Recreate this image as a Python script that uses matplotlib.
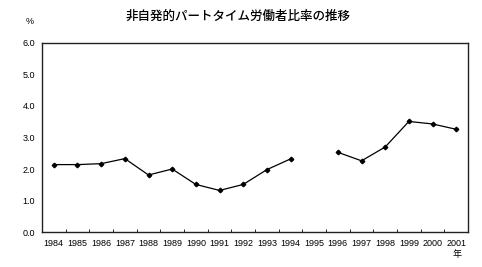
import numpy as np
import matplotlib
matplotlib.use("Agg")
import matplotlib.pyplot as plt

plt.rcParams['font.family'] = ['Liberation Sans', 'Noto Sans CJK JP', 'DejaVu Sans']

years = ["1984", "1985", "1986", "1987", "1988", "1989", "1990", "1991", "1992",
         "1993", "1994", "1995", "1996", "1997", "1998", "1999", "2000", "2001"]
# 1995 はデータなし
ratio = [2.14, 2.14, 2.17, 2.33, 1.81, 2.00, 1.51, 1.32, 1.51,
         1.98, 2.32, np.nan, 2.53, 2.26, 2.70, 3.51, 3.43, 3.26]

fig = plt.figure(figsize=(4.82, 2.67), dpi=100)
ax = fig.add_axes([0.0871, 0.131, 0.884, 0.708])

x = np.arange(len(years))
ax.plot(x, ratio, color='black', lw=0.9, marker='D', markersize=2.3)

ax.set_xlim(-0.5, len(years) - 0.5)
ax.set_ylim(0, 6)
ax.set_yticks(np.arange(0, 6.1, 1.0))
ax.set_yticklabels([f"{v:.1f}" for v in np.arange(0, 6.1, 1.0)], fontsize=6.5)
ax.tick_params(axis='y', length=0, pad=5)

ax.set_xticks(x)
ax.set_xticklabels(years, fontsize=6.5)
ax.tick_params(axis='x', which='major', length=0, pad=5)
ax.set_xticks(np.arange(0.5, len(years) - 1, 1.0), minor=True)
ax.tick_params(axis='x', which='minor', direction='in', length=2.5, width=0.6)

for s in ax.spines.values():
    s.set_linewidth(1.0)
    s.set_color('#222222')

fig.text(0.494, 0.94, "非自発的パートタイム労働者比率の推移", ha='center', va='center',
         fontsize=9, fontweight='medium', family=['Noto Sans CJK JP', 'DejaVu Sans'])
fig.text(0.062, 0.92, "%", ha='center', va='center', fontsize=6.5)
fig.text(0.948, 0.048, "年", ha='center', va='center', fontsize=6.5,
         family=['Noto Sans CJK JP', 'DejaVu Sans'])

fig.savefig("out.png", dpi=100)
